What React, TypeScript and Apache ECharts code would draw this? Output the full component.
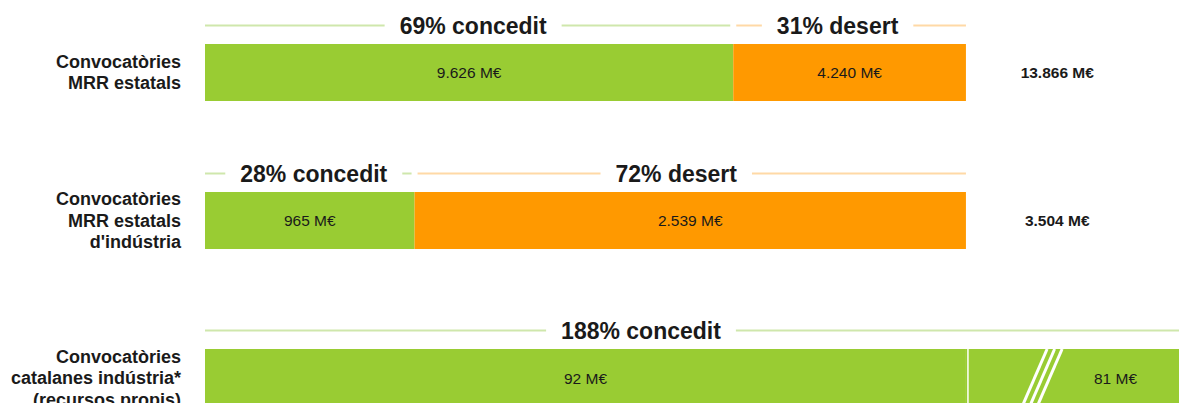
import React, { useEffect, useRef } from 'react';
import * as echarts from 'echarts';

// ---- data (M€) ----
const categories = [
  'Convocatòries\nMRR estatals',
  "Convocatòries\nMRR estatals\nd'indústria",
  'Convocatòries\ncatalanes indústria*\n(recursos propis)',
];
const concedit = [9626, 965, 92];
const concessioAddicional = [0, 0, 81];
const desert = [4240, 2539, 0];
const pressupost = [13866, 3504, 92];
const totalsShown = [13866, 3504, null];
const segmentNames = ['concedit', 'desert'];

// ---- style / layout ----
const FONT = "'Liberation Sans', Arial, Helvetica, sans-serif";
const GREEN = '#99CC33';
const ORANGE = '#FF9900';
const GREEN_LIGHT = '#CFE7AC';
const ORANGE_LIGHT = '#FFD9A6';
const TEXT = '#1a1a1a';
const X_MAX = 128;
const GRID_TOPS = [44, 192, 349];
const BAR_H = [57, 57, 58];
const LABEL_PAD_TOP = [0, 0, 16];
const ANNOT_SHIFT = [[4, -12], [4, -14], [-51]];
const TOTAL_AT = 112;
const BREAK_AT = 110;

const fmt = (n: number) => String(n).replace(/\B(?=(\d{3})+(?!\d))/g, '.');

let measureCtx: CanvasRenderingContext2D | null = null;
function textWidth(text: string, font: string) {
  if (!measureCtx) measureCtx = document.createElement('canvas').getContext('2d');
  if (!measureCtx) return text.length * 12;
  measureCtx.font = font;
  return measureCtx.measureText(text).width;
}

function buildOption() {
  const grids: any[] = [];
  const xAxes: any[] = [];
  const yAxes: any[] = [];
  const series: any[] = [];

  categories.forEach((cat, r) => {
    grids.push({ left: 205, right: 0, top: GRID_TOPS[r], height: BAR_H[r], containLabel: false, outerBoundsMode: 'none' });
    xAxes.push({ type: 'value', gridIndex: r, min: 0, max: X_MAX, show: false });
    yAxes.push({
      type: 'category',
      gridIndex: r,
      data: [cat],
      axisLine: { show: false },
      axisTick: { show: false },
      splitLine: { show: false },
      axisLabel: {
        margin: 24,
        fontSize: 18,
        fontWeight: 'bold',
        fontFamily: FONT,
        color: TEXT,
        lineHeight: 21.5,
        align: 'right',
        padding: [LABEL_PAD_TOP[r], 0, 0, 0],
      },
    });

    const budget = pressupost[r];
    const barLabel = {
      show: true,
      position: 'inside',
      fontSize: 15.5,
      fontFamily: FONT,
      color: TEXT,
      formatter: (p: any) => (p.data.raw ? fmt(p.data.raw) + ' M€' : ''),
    };
    series.push({
      type: 'bar', name: 'concedit', stack: 's' + r, xAxisIndex: r, yAxisIndex: r,
      barWidth: '100%', itemStyle: { color: GREEN }, label: barLabel,
      data: [{ value: (concedit[r] / budget) * 100, raw: concedit[r] }],
    });
    series.push({
      type: 'bar', name: 'desert', stack: 's' + r, xAxisIndex: r, yAxisIndex: r,
      barWidth: '100%', itemStyle: { color: ORANGE }, label: barLabel,
      data: [{ value: (desert[r] / budget) * 100, raw: desert[r] }],
    });
    series.push({
      type: 'bar', name: 'addicional', stack: 's' + r, xAxisIndex: r, yAxisIndex: r,
      barWidth: '100%', itemStyle: { color: GREEN }, label: { show: false }, clip: true,
      data: [{ value: (concessioAddicional[r] / budget) * 100, raw: concessioAddicional[r] }],
    });

    // annotations, totals, break marks
    series.push({
      type: 'custom', xAxisIndex: r, yAxisIndex: r, z: 10, clip: false,
      data: [[0, 0]],
      renderItem: (params: any, api: any) => {
        const cs = params.coordSys;
        const right = cs.x + cs.width, top = cs.y, bottom = cs.y + cs.height;
        const mid = (top + bottom) / 2;
        const px = (v: number) => api.coord([v, 0])[0];
        const children: any[] = [];
        const grantedPct = ((concedit[r] + concessioAddicional[r]) / budget) * 100;
        const desertPct = (desert[r] / budget) * 100;
        const segs: any[] = [
          { from: 0, to: grantedPct, color: GREEN_LIGHT, label: Math.round(grantedPct) + '% ' + segmentNames[0] },
        ];
        if (desert[r] > 0) {
          segs.push({ from: grantedPct, to: grantedPct + desertPct, color: ORANGE_LIGHT, label: Math.round(desertPct) + '% ' + segmentNames[1] });
        }
        const lineY = top - 18.5;
        const annFont = `bold 23px ${FONT}`;
        segs.forEach((s, i) => {
          let x1 = px(s.from);
          let x2 = Math.min(px(s.to), right);
          if (i > 0) x1 += 3;
          if (i < segs.length - 1) x2 -= 3;
          const tc = (px(s.from) + Math.min(px(s.to), right)) / 2 + ANNOT_SHIFT[r][i];
          const w = textWidth(s.label, annFont);
          const g1 = tc - w / 2 - 15;
          const g2 = tc + w / 2 + 15;
          if (g1 > x1) children.push({ type: 'line', shape: { x1, y1: lineY, x2: g1, y2: lineY }, style: { stroke: s.color, lineWidth: 2 } });
          if (x2 > g2) children.push({ type: 'line', shape: { x1: g2, y1: lineY, x2, y2: lineY }, style: { stroke: s.color, lineWidth: 2 } });
          children.push({
            type: 'text',
            style: { text: s.label, x: tc, y: lineY, align: 'center', verticalAlign: 'middle', fontSize: 23, fontWeight: 'bold', fontFamily: FONT, fill: TEXT },
          });
        });
        const tot = totalsShown[r];
        if (tot != null) {
          children.push({
            type: 'text',
            style: { text: fmt(tot) + ' M€', x: px(TOTAL_AT), y: mid, align: 'center', verticalAlign: 'middle', fontSize: 15.5, fontWeight: 'bold', fontFamily: FONT, fill: TEXT },
          });
        }
        if (concessioAddicional[r] > 0) {
          const xd = px(100) + 2;
          children.push({ type: 'line', shape: { x1: xd, y1: top, x2: xd, y2: bottom }, style: { stroke: '#ffffff', lineWidth: 1.5 } });
          const xb = px(BREAK_AT);
          const slope = 23 / 53;
          [-7.5, 0, 7.5].forEach((k) => {
            children.push({
              type: 'line',
              shape: { x1: xb + k + slope * (mid - top), y1: top, x2: xb + k - slope * (bottom - mid), y2: bottom },
              style: { stroke: '#ffffff', lineWidth: 3 },
            });
          });
          const lx = (xb + 10 + right) / 2;
          children.push({
            type: 'text',
            style: { text: fmt(concessioAddicional[r]) + ' M€', x: lx, y: mid, align: 'center', verticalAlign: 'middle', fontSize: 15.5, fontFamily: FONT, fill: TEXT },
          });
        }
        return { type: 'group', children };
      },
    });
  });

  return {
    animation: false,
    backgroundColor: '#ffffff',
    grid: grids,
    xAxis: xAxes,
    yAxis: yAxes,
    series,
  };
}

export default function App() {
  const ref = useRef<HTMLDivElement>(null);
  useEffect(() => {
    if (!ref.current) return;
    const chart = echarts.init(ref.current, undefined, { renderer: 'svg' });
    chart.setOption(buildOption() as any);
    return () => chart.dispose();
  }, []);
  return <div ref={ref} style={{ position: 'fixed', left: 0, top: 0, width: 1179, height: 403 }} />;
}
